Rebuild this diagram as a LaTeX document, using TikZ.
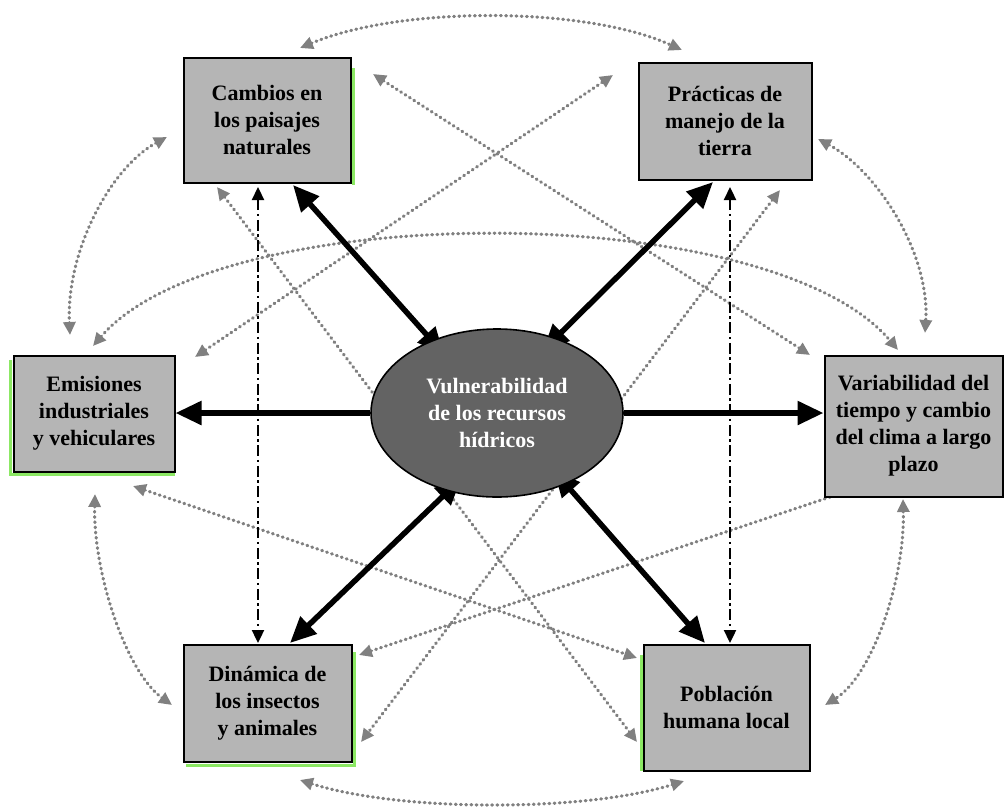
\documentclass[tikz,border=0pt]{standalone}
\usepackage{fontspec}
\setmainfont{Liberation Serif}
\usetikzlibrary{arrows.meta}
\usetikzlibrary{shapes.geometric}
\tikzset{>=latex}
\tikzset{bigtip/.tip={Triangle[length=26pt,width=23pt]}}
\tikzset{dottip/.tip={Triangle[length=13pt,width=12pt]}}
\colorlet{boxgray}{black!29}
\colorlet{coregray}{black!61}
\colorlet{dotgray}{black!50}
\definecolor{glow}{RGB}{140,232,100}
\pgfdeclarelayer{back}
\pgfsetlayers{back,main}

\begin{document}
\begin{tikzpicture}[
    x=1pt,y=-1pt,
    box/.style={draw=black,line width=2pt,fill=boxgray,align=center,inner sep=0pt,
      font=\fontsize{22}{27}\selectfont\bfseries},
    core/.style={ellipse,draw=black,line width=1.6pt,fill=coregray,text=white,align=center,
      inner sep=0pt,minimum width=252pt,minimum height=168pt,
      font=\fontsize{22}{27}\selectfont\bfseries},
    heavy/.style={line width=5.5pt},
    faint/.style={dotgray,line width=3.2pt,line cap=round,dash pattern=on 0.8pt off 4.4pt},
    dashdot/.style={black,line width=2.3pt,dash pattern=on 11pt off 3.5pt on 2.5pt off 3.5pt},
  ]
  \useasboundingbox (0,0) rectangle (1006,807);

  % BOXES
  \node[box,minimum width=167pt,minimum height=125pt] (cam) at (267,120)
    {Cambios en\\los paisajes\\naturales};
  \node[box,minimum width=173pt,minimum height=117pt] (pra) at (725,121)
    {Prácticas de\\manejo de la\\tierra};
  \node[box,minimum width=161pt,minimum height=116pt] (emi) at (94,413.5)
    {Emisiones\\industriales\\y vehiculares};
  \node[box,minimum width=178pt,minimum height=141pt] (var) at (913.5,426)
    {Variabilidad del\\tiempo y cambio\\del clima a largo\\plazo};
  \node[box,minimum width=168pt,minimum height=117pt] (din) at (267.5,703)
    {Dinámica de\\los insectos\\y animales};
  \node[box,minimum width=166pt,minimum height=126pt] (pob) at (726.5,707.5)
    {Población\\humana local};
  \node[core] (vul) at (497,413) {Vulnerabilidad\\de los recursos\\hídricos};

  % END POINTS
  \coordinate (camA) at (373,74);   % cam <-> var
  \coordinate (varA) at (810,355);
  \coordinate (emiA) at (195,357);  % emi <-> pra
  \coordinate (praA) at (613,75);
  \coordinate (camB) at (217,187);  % cam <-> pob
  \coordinate (pobB) at (637,742);
  \coordinate (praB) at (780,190);  % pra <-> din
  \coordinate (dinB) at (361,742);
  \coordinate (emiC) at (133,486);  % emi <-> pob
  \coordinate (pobC) at (637,658);
  \coordinate (varC) at (830,497);  % var -> din
  \coordinate (dinC) at (359,655);

  \coordinate (camT) at (300,48);   % outer ring
  \coordinate (praT) at (682,50);
  \coordinate (camL) at (167,137);
  \coordinate (emiT) at (70,335);
  \coordinate (praR) at (818,139);
  \coordinate (varT) at (925,333);
  \coordinate (emiB) at (95,494);
  \coordinate (dinL) at (172,705);
  \coordinate (varB) at (903,499);
  \coordinate (pobR) at (825,705);
  \coordinate (dinU) at (300,780);
  \coordinate (pobU) at (684,781);
  \coordinate (emiD) at (93,346);   % arc over the core
  \coordinate (varD) at (898,350);

  \coordinate (camV) at (258,187);  % dash-dot
  \coordinate (dinV) at (258,643);
  \coordinate (praV) at (730,187);
  \coordinate (pobV) at (730,643);

  \coordinate (camH) at (293,185);  % heavy
  \coordinate (praH) at (713,182);
  \coordinate (dinH) at (290,643);
  \coordinate (pobH) at (705,643);

  \begin{pgfonlayer}{back}
    % GREEN EDGES
    \draw[glow,line width=3pt] (353,68) -- (353,185);
    \draw[glow,line width=3pt] (10,360) -- (10,474) -- (175,474);
    \draw[glow,line width=3pt] (354,652) -- (354,765) -- (186,765);
    \draw[glow,line width=3pt] (641,655) -- (641,771);

    % OUTER RING
    \draw[faint,{dottip}-{dottip}] (camT) .. controls (400,6) and (585,6) .. (praT);
    \draw[faint,{dottip}-{dottip}] (camL) .. controls (110,168) and (66,252) .. (emiT);
    \draw[faint,{dottip}-{dottip}] (praR) .. controls (876,170) and (930,252) .. (varT);
    \draw[faint,{dottip}-{dottip}] (emiB) .. controls (93,572) and (126,672) .. (dinL);
    \draw[faint,{dottip}-{dottip}] (varB) .. controls (905,580) and (872,676) .. (pobR);
    \draw[faint,{dottip}-{dottip}] (dinU) .. controls (400,812) and (585,812) .. (pobU);
    \draw[faint,{dottip}-{dottip}] (emiD) .. controls (220,198) and (770,198) .. (varD);

    % CROSSING LINKS
    \foreach \p/\q in {camA/varA,emiA/praA,camB/pobB,praB/dinB,emiC/pobC}
      \draw[faint,{dottip}-{dottip}] (\p) -- (\q);
    \draw[faint,-{dottip}] (varC) -- (dinC);

    % DASH-DOT LINKS
    \draw[dashdot,{dottip}-{dottip}] (camV) -- (dinV);
    \draw[dashdot,{dottip}-{dottip}] (praV) -- (pobV);

    % HEAVY LINKS
    \draw[heavy,{bigtip}-{bigtip},shorten <=-18pt] (vul.132) -- (camH);
    \draw[heavy,{bigtip}-{bigtip},shorten <=-18pt] (vul.52) -- (praH);
    \draw[heavy,{bigtip}-{bigtip},shorten <=-18pt] (vul.238) -- (dinH);
    \draw[heavy,{bigtip}-{bigtip},shorten <=-18pt] (vul.314) -- (pobH);
    \draw[heavy,-{bigtip}] (vul.west) -- (emi.east |- vul.west);
    \draw[heavy,-{bigtip}] (vul.east) -- (var.west |- vul.east);
  \end{pgfonlayer}
\end{tikzpicture}
\end{document}
